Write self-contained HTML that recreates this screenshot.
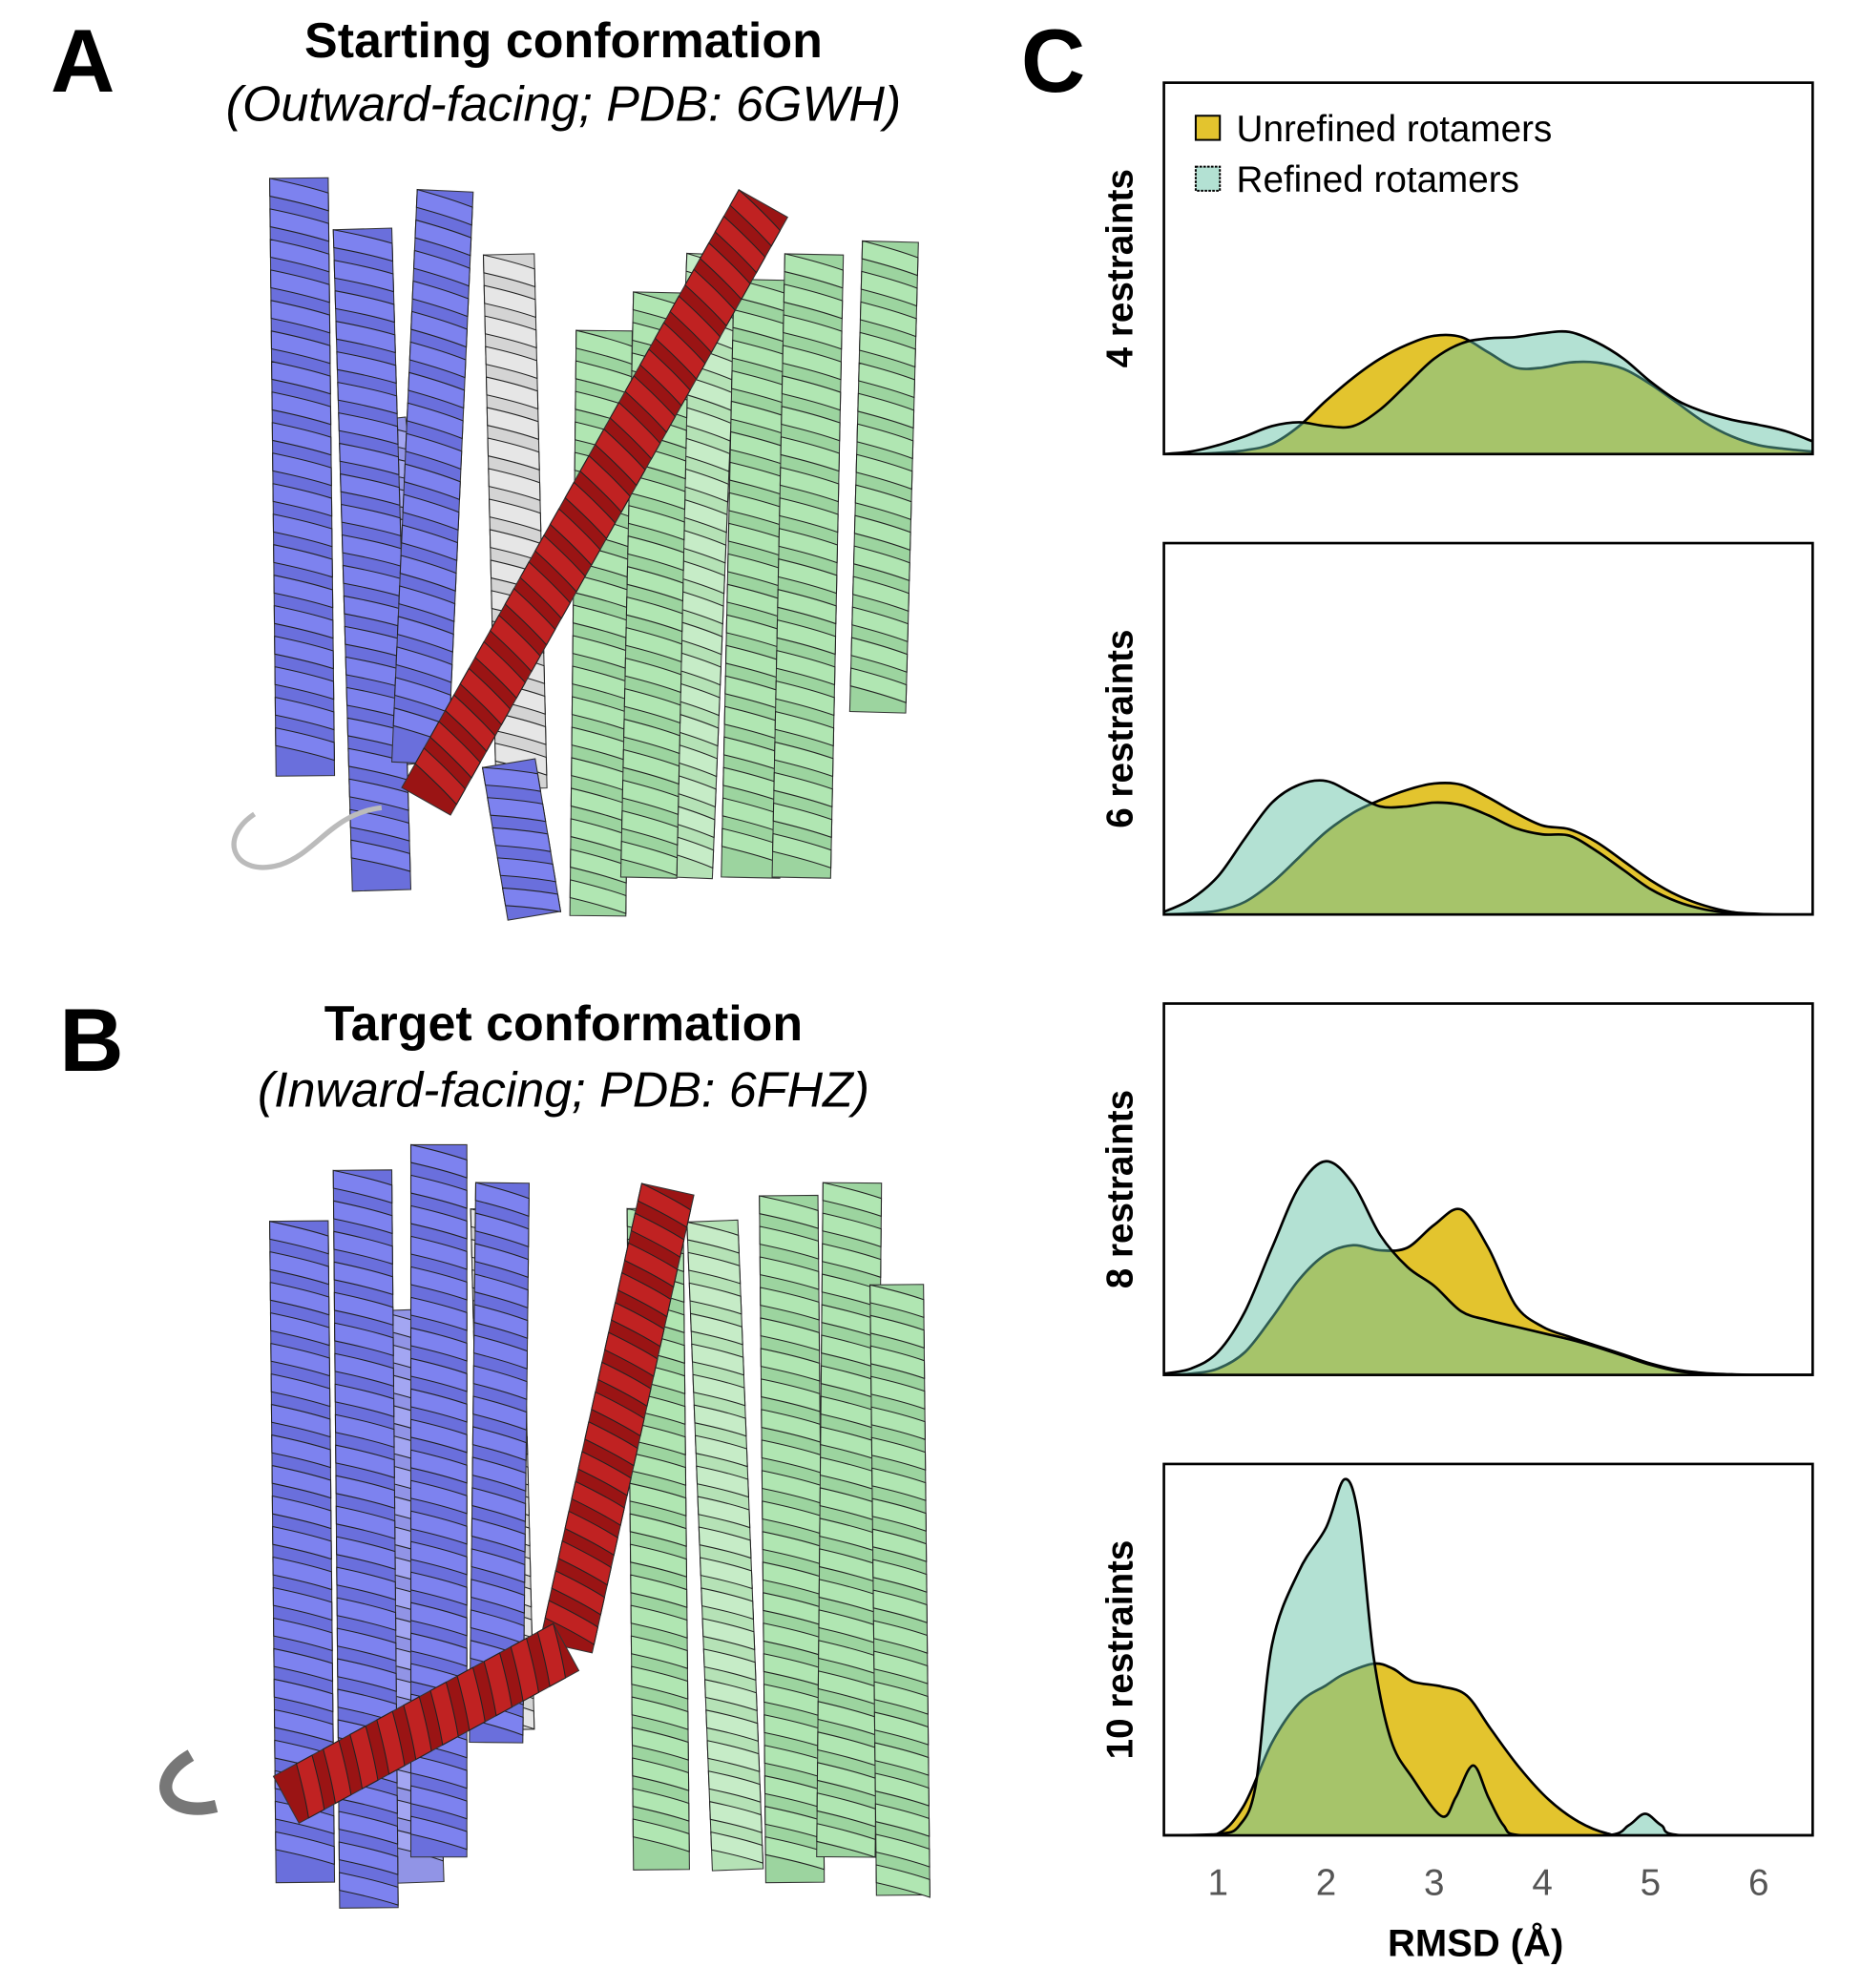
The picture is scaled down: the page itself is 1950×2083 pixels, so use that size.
<!DOCTYPE html>
<html><head><meta charset="utf-8"><style>
html,body{margin:0;padding:0;background:#fff;}
svg{display:block;}
text{font-family:"Liberation Sans",sans-serif;}
</style></head>
<body>
<svg id="fig" width="1950" height="2083" viewBox="0 0 1463 1563" preserveAspectRatio="none" xmlns="http://www.w3.org/2000/svg">
<g id="prot"></g>
<text x="65" y="72" font-size="70" font-weight="bold" text-anchor="middle">A</text>
<text x="443" y="45" font-size="39" font-weight="bold" text-anchor="middle">Starting conformation</text>
<text x="443" y="95" font-size="39" font-style="italic" text-anchor="middle">(Outward-facing; PDB: 6GWH)</text>
<text x="72" y="842" font-size="70" font-weight="bold" text-anchor="middle">B</text>
<text x="443" y="818" font-size="39" font-weight="bold" text-anchor="middle">Target conformation</text>
<text x="443" y="870" font-size="39" font-style="italic" text-anchor="middle">(Inward-facing; PDB: 6FHZ)</text>
<text x="828" y="72" font-size="70" font-weight="bold" text-anchor="middle">C</text>
<g id="charts"></g>
</svg>
<script>
// ---------- chart data (heights in density units) ----------
const grid = [0.5,0.75,1,1.25,1.5,1.75,2,2.25,2.5,2.75,3,3.25,3.5,3.75,4,4.25,4.5,4.75,5,5.25,5.5,5.75,6,6.25,6.5];
const unrefined4 = [0,0,1,3,8,22,42,60,75,86,93,92,80,68,68,72,72,67,55,40,25,14,7,4,2];
const refined4   = [0,2,7,14,22,25,22,22,35,55,75,87,91,92,95,96,88,75,57,42,33,27,23,18,10];
const unrefined6 = [0,1,3,10,25,45,65,80,90,98,103,102,92,80,70,67,57,42,27,15,7,2,0.5,0,0];
const refined6   = [2,12,30,60,88,102,105,95,85,85,88,86,78,68,63,62,50,35,20,10,4,1,0,0,0];
const unrefined8 = [0,1,5,18,45,75,95,102,98,100,118,130,100,55,38,30,23,16,9,4,1.5,0.5,0,0,0];
const refined8   = [1,5,18,50,100,148,168,150,110,85,70,50,43,38,33,28,22,15,8,3,1,0,0,0,0];
const xUnrefined10 = [0.5,0.96,1.23,1.5,1.75,2.0,2.17,2.44,2.62,2.8,3.07,3.3,3.52,3.79,4.06,4.33,4.6,4.86,6.5];
const unrefined10  = [0,0,22,73,104,118,127,135,131,121,117,110,84,53,28,11,1.5,0,0];
const xRefined10 = [0.5,1.0,1.2,1.35,1.5,1.75,2.0,2.17,2.3,2.44,2.6,2.8,3.07,3.2,3.36,3.5,3.64,3.8,4.6,4.8,4.95,5.1,5.3,6.5];
const refined10  = [0,1,8,40,150,208,242,280,250,140,75,45,15,30,55,30,8,0,0,8,17,8,0,0];
const panelLabels = ["4 restraints","6 restraints","8 restraints","10 restraints"];
const tickLabels = [1,2,3,4,5,6];
const legendLabels = ["Unrefined rotamers","Refined rotamers"];

const NS="http://www.w3.org/2000/svg";
function mk(tag,attrs,parent){const e=document.createElementNS(NS,tag);for(const k in attrs)e.setAttribute(k,attrs[k]);parent.appendChild(e);return e;}

const PX0=915,PX1=1425,PH=292,YMAX=292;
const tops=[65,427,789,1151];
function xs(v){return PX0+(v-0.5)/6*(PX1-PX0);}
function ys(top,v){return top+PH-Math.max(0,v)/YMAX*PH;}
function curve(top,xa,ya){
  const pts=xa.map((x,i)=>[xs(x),ys(top,ya[i])]);
  let d="M"+pts[0][0]+","+pts[0][1];
  for(let i=0;i<pts.length-1;i++){
    const p0=pts[Math.max(0,i-1)],p1=pts[i],p2=pts[i+1],p3=pts[Math.min(pts.length-1,i+2)];
    const c1=[p1[0]+(p2[0]-p0[0])/6,Math.min(top+PH,p1[1]+(p2[1]-p0[1])/6)];
    const c2=[p2[0]-(p3[0]-p1[0])/6,Math.min(top+PH,p2[1]-(p3[1]-p1[1])/6)];
    d+=" C"+c1[0].toFixed(1)+","+c1[1].toFixed(1)+" "+c2[0].toFixed(1)+","+c2[1].toFixed(1)+" "+p2[0].toFixed(1)+","+p2[1].toFixed(1);
  }
  return d;
}
const charts=document.getElementById('charts');
const defs=mk('defs',{},charts);
const series=[[grid,unrefined4,grid,refined4],[grid,unrefined6,grid,refined6],[grid,unrefined8,grid,refined8],[xUnrefined10,unrefined10,xRefined10,refined10]];
series.forEach((s,i)=>{
  const top=tops[i],base=top+PH;
  const g=mk('g',{},charts);
  
  
  const lu=curve(top,s[0],s[1]), lr=curve(top,s[2],s[3]);
  const close=" L"+xs(6.5)+","+base+" L"+xs(0.5)+","+base+" Z";
  const cp=mk('clipPath',{id:'clipR'+i},defs);
  mk('path',{d:lr+close},cp);
  const cb=mk('clipPath',{id:'box'+i},defs);
  mk('rect',{x:PX0,y:top,width:PX1-PX0,height:PH},cb);
  const inner=mk('g',{'clip-path':'url(#box'+i+')'},g);
  const a=mk('path',{d:lu+close,fill:'#e3c42e',stroke:'none'},inner);
  
  
  mk('path',{d:lu,fill:'none',stroke:'#000','stroke-width':2},inner);
  const b=mk('path',{d:lr+close,fill:'#b3e1d3',stroke:'none'},inner);
  
  
  mk('path',{d:lu+close,fill:'#a6c46a',stroke:'none','clip-path':'url(#clipR'+i+')'},inner);
  mk('path',{d:lu,fill:'none',stroke:'#2f5c52','stroke-width':2,'clip-path':'url(#clipR'+i+')'},inner);
  mk('path',{d:lr,fill:'none',stroke:'#000','stroke-width':2},inner);
  const r=mk('rect',{x:PX0,y:top,width:PX1-PX0,height:PH,fill:'none',stroke:'#000','stroke-width':2},g);
  
  
  const t=mk('text',{x:0,y:0,transform:'translate(890,'+(top+PH/2)+') rotate(-90)','font-size':29,'font-weight':'bold','text-anchor':'middle'},g);
  t.textContent=panelLabels[i];
  
  
});
tickLabels.forEach(v=>{
  const t=mk('text',{x:xs(v),y:1490,'font-size':29,fill:'#555','text-anchor':'middle'},charts);
  t.textContent=v;
  
  
});
const xt=mk('text',{x:1160,y:1538,'font-size':30,'font-weight':'bold','text-anchor':'middle'},charts);
xt.textContent="RMSD (Å)";


legendLabels.forEach((l,i)=>{
  const g=mk('g',{},charts);
  
  
  mk('rect',{x:940,y:91+i*40,width:19,height:19,fill:i?'#b3e1d3':'#e3c42e',stroke:'#000','stroke-width':1.5,'stroke-dasharray':i?'2,1':'none'},g);
  const t=mk('text',{x:972,y:111+i*40,'font-size':29},g);
  t.textContent=l;
});

// ---------- protein cartoons ----------
const prot=document.getElementById('prot');
function helix(x0,y0,x1,y1,w,col,dark,name){
  const g=mk('g',{},prot);
  
  
  const L=Math.hypot(x1-x0,y1-y0),dx=(x1-x0)/L,dy=(y1-y0)/L,nx=-dy,ny=dx,h=w/2;
  mk('path',{d:`M${x0+nx*h},${y0+ny*h} L${x1+nx*h},${y1+ny*h} L${x1-nx*h},${y1-ny*h} L${x0-nx*h},${y0-ny*h} Z`,fill:dark,stroke:'#333','stroke-width':0.8},g);
  const p=24;
  for(let s=0;s+p<=L;s+=p){
    const ax=x0+dx*s,ay=y0+dy*s,bx=x0+dx*(s+p*0.5),by=y0+dy*(s+p*0.5);
    const t=14;
    const d=`M${ax+nx*h},${ay+ny*h} Q${(ax+bx)/2-nx*h*0.2},${(ay+by)/2-ny*h*0.2} ${bx-nx*h},${by-ny*h} L${bx-nx*h+dx*t},${by-ny*h+dy*t} Q${(ax+bx)/2+dx*t-nx*h*0.2},${(ay+by)/2+dy*t-ny*h*0.2} ${ax+nx*h+dx*t},${ay+ny*h+dy*t} Z`;
    mk('path',{d:d,fill:col,stroke:'#222','stroke-width':0.8},g);
  }
}
const B='#7d82ef',Bd='#6a6fdc',G='#b0e6b2',Gd='#9cd49f',R='#c02222',Rd='#9a1414',W='#e6e6e6',Wd='#d4d4d4';
// Panel A
helix(400,200,410,620,40,W,Wd,'helix-a-gray');
helix(300,330,330,600,38,'#a3a6f2','#9194e6','helix-a-blue-back');
helix(235,140,240,610,46,B,Bd,'helix-a-blue-1');
helix(285,180,300,700,46,B,Bd,'helix-a-blue-2');
helix(350,150,330,600,44,B,Bd,'helix-a-blue-3');
helix(400,600,420,720,42,B,Bd,'helix-a-blue-4');
helix(560,200,540,690,40,'#c6ecc7','#b5e2b6','helix-a-green-back');
helix(475,260,470,720,44,G,Gd,'helix-a-green-1');
helix(520,230,510,690,44,G,Gd,'helix-a-green-2');
helix(600,220,590,690,46,G,Gd,'helix-a-green-3');
helix(640,200,630,690,46,G,Gd,'helix-a-green-4');
helix(700,190,690,560,44,G,Gd,'helix-a-green-5');
helix(600,160,335,630,44,R,Rd,'helix-a-red');
mk('path',{d:'M200,640 C170,660 185,690 220,680 C250,670 260,640 300,635',fill:'none',stroke:'#bbb','stroke-width':4},prot);
// Panel B
helix(390,950,400,1360,40,W,Wd,'helix-b-gray');
helix(315,1030,330,1480,38,'#a3a6f2','#9194e6','helix-b-blue-back');
helix(235,960,240,1480,46,B,Bd,'helix-b-blue-1');
helix(285,920,290,1500,46,B,Bd,'helix-b-blue-2');
helix(345,900,345,1460,44,B,Bd,'helix-b-blue-3');
helix(395,930,390,1370,42,B,Bd,'helix-b-blue-4');
helix(560,960,580,1470,40,'#c6ecc7','#b5e2b6','helix-b-green-back');
helix(515,950,520,1470,44,G,Gd,'helix-b-green-1');
helix(620,940,625,1480,46,G,Gd,'helix-b-green-2');
helix(670,930,665,1460,46,G,Gd,'helix-b-green-3');
helix(705,1010,710,1490,42,G,Gd,'helix-b-green-4');
helix(525,935,445,1295,42,R,Rd,'helix-b-red-1');
helix(445,1295,225,1415,42,R,Rd,'helix-b-red-2');
mk('path',{d:'M150,1380 C115,1400 130,1430 170,1420',fill:'none',stroke:'#777','stroke-width':10},prot);
</script>
</body></html>
